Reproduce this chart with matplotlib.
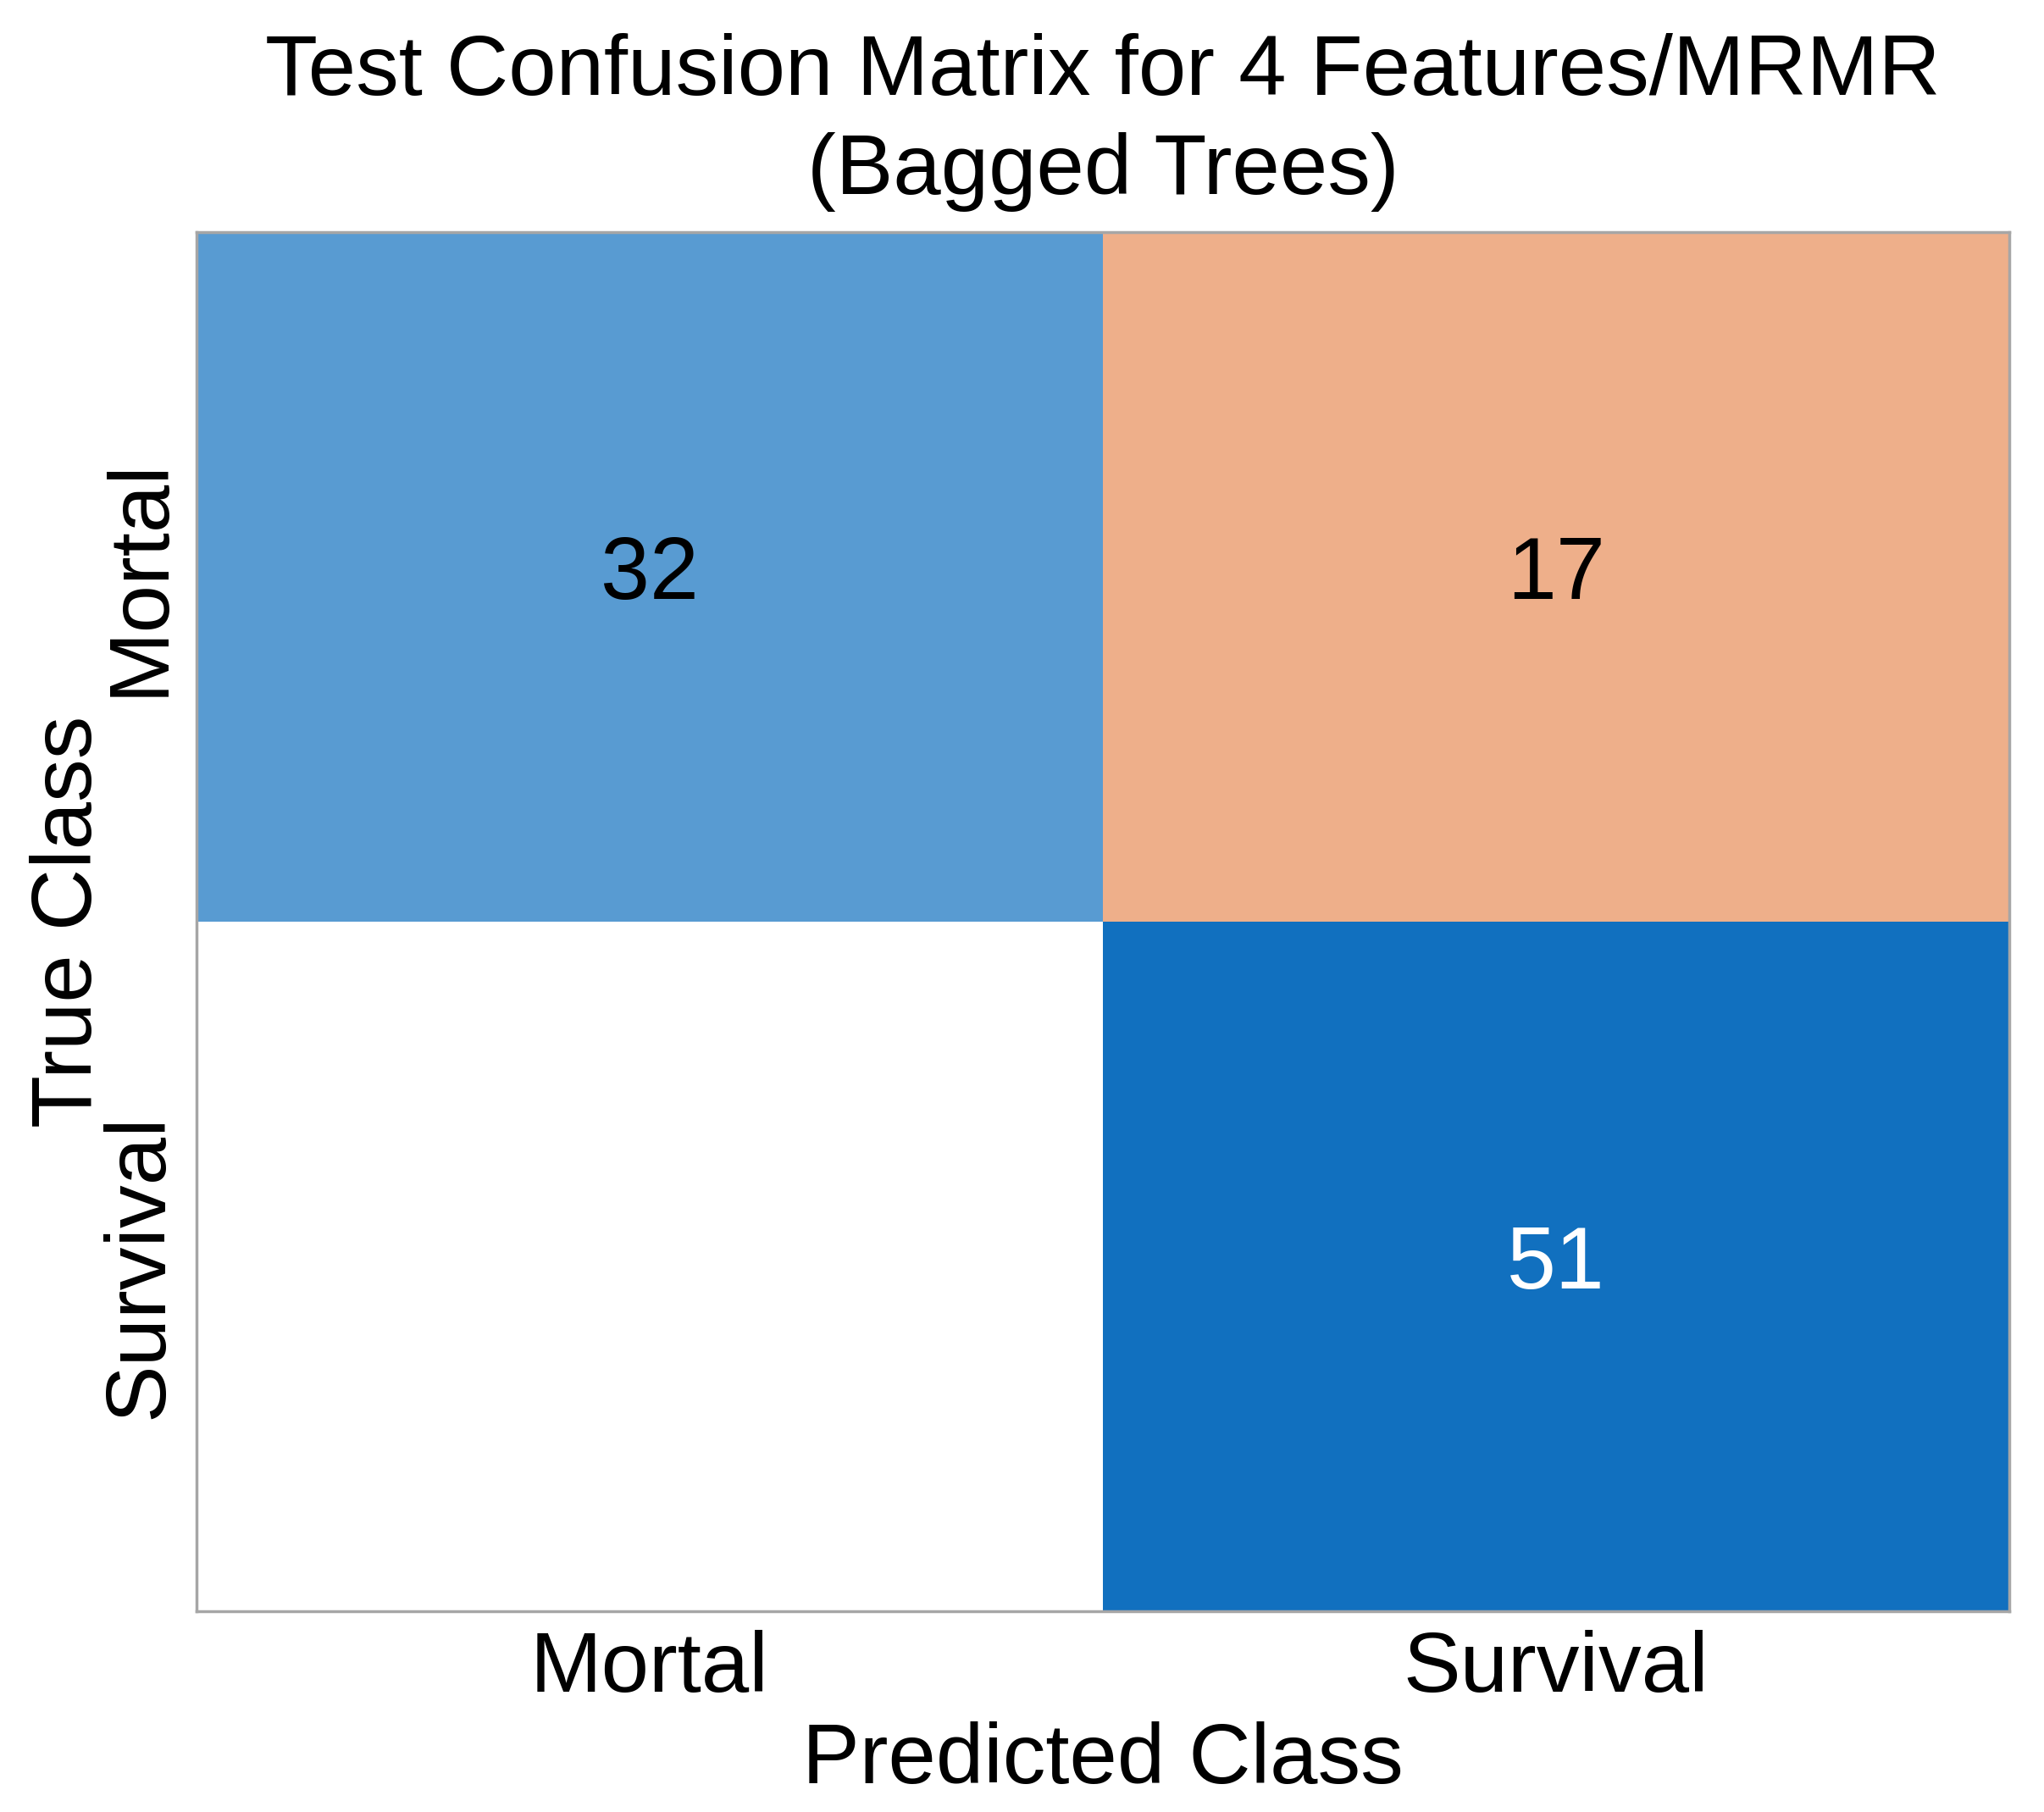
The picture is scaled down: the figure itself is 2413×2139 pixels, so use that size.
import numpy as np
import matplotlib
matplotlib.use('Agg')
import matplotlib.pyplot as plt
from matplotlib.colors import LinearSegmentedColormap, PowerNorm

plt.rcParams['font.family'] = ['Liberation Sans', 'DejaVu Sans']

classes = ['Mortal', 'Survival']
counts = np.array([[32, 17],
                   [0, 51]])
title = 'Test Confusion Matrix for 4 Features/MRMR\n(Bagged Trees)'

diag_cmap = LinearSegmentedColormap.from_list('diag', ['#ffffff', '#1170bf'])
off_cmap = LinearSegmentedColormap.from_list('off', ['#ffffff', '#eeaf8a'])

fig = plt.figure(figsize=(24.13, 21.39), dpi=100)
ax = fig.add_axes([0.096, 0.111, 0.887, 0.761])

n = len(classes)
is_diag = np.eye(n, dtype=bool)
diag_vals = np.ma.masked_where(~is_diag, counts)
off_vals = np.ma.masked_where(is_diag, counts)

ax.pcolormesh(np.arange(n + 1), np.arange(n + 1), diag_vals, cmap=diag_cmap,
              norm=PowerNorm(gamma=0.76, vmin=0, vmax=counts[is_diag].max()))
ax.pcolormesh(np.arange(n + 1), np.arange(n + 1), off_vals, cmap=off_cmap,
              norm=PowerNorm(gamma=0.76, vmin=0, vmax=counts[~is_diag].max()))

for i in range(n):
    for j in range(n):
        v = counts[i, j]
        if v == 0:
            continue
        col = 'white' if (is_diag[i, j] and v == counts.max()) else 'black'
        ax.text(j + 0.5, i + 0.5, str(v), ha='center', va='center',
                fontsize=75, color=col)

ax.set_xlim(0, n)
ax.set_ylim(n, 0)
ax.set_xticks(np.arange(n) + 0.5)
ax.set_yticks(np.arange(n) + 0.5)
ax.set_xticklabels(classes, fontsize=73)
ax.set_yticklabels(classes, fontsize=73, rotation=90, va='center')
ax.tick_params(axis='x', length=0, pad=16)
ax.tick_params(axis='y', length=0, pad=14)
ax.set_xlabel('Predicted Class', fontsize=73, labelpad=10)
ax.set_ylabel('True Class', fontsize=73, labelpad=-8)
ax.set_title(title, fontsize=73, pad=32, linespacing=1.32)

for s in ax.spines.values():
    s.set_color('#a6a6a6')
    s.set_linewidth(2.5)

fig.savefig('out.png', dpi=100)
